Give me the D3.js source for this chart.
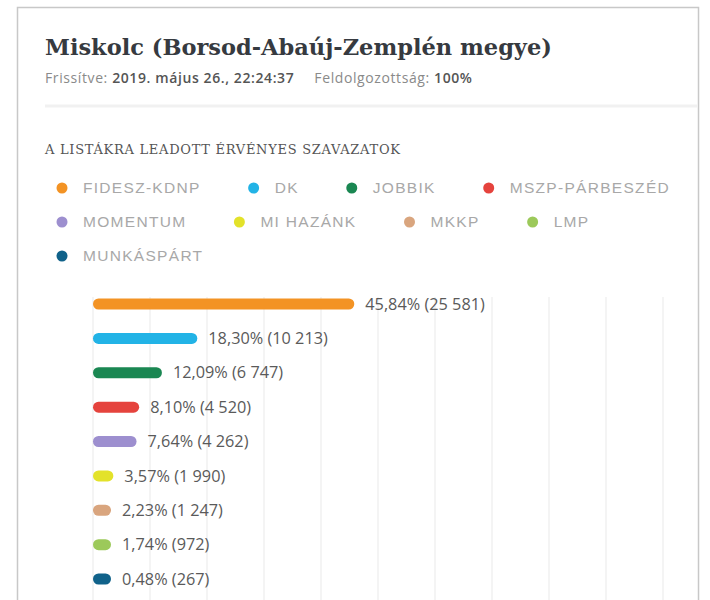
<!DOCTYPE html>
<html>
<head>
<meta charset="utf-8">
<script src="https://cdn.jsdelivr.net/npm/d3@7"></script>
<style>
  body { margin: 0; background: #fff; }
  svg text { font-family: "Open Sans", sans-serif; }
</style>
</head>
<body>
<div id="chart"></div>
<script>
// party names, vote share (%), votes, colors
var parties = ["FIDESZ-KDNP", "DK", "JOBBIK", "MSZP-PÁRBESZÉD", "MOMENTUM", "MI HAZÁNK", "MKKP", "LMP", "MUNKÁSPÁRT"];
var shares = [45.84, 18.30, 12.09, 8.10, 7.64, 3.57, 2.23, 1.74, 0.48];
var votes = [25581, 10213, 6747, 4520, 4262, 1990, 1247, 972, 267];
var colors = ["#f39324", "#22b3e6", "#1a8752", "#e5433d", "#9d8fcf", "#e3e22a", "#d9a57e", "#9cc95a", "#10628a"];

var w = 710, h = 600;

var svg = d3.select("#chart").append("svg")
    .attr("width", w)
    .attr("height", h);

// card frame
svg.append("rect")
    .attr("x", 17.5).attr("y", 7.5)
    .attr("width", 681).attr("height", 620)
    .attr("fill", "#fff")
    .attr("stroke", "#c8c8c8")
    .attr("stroke-width", 1.5);

svg.append("text")
    .attr("x", 45).attr("y", 55)
    .style("font-family", "'DejaVu Serif', serif")
    .style("font-weight", "bold")
    .style("font-size", "22.5px")
    .attr("fill", "#363a40")
    .text("Miskolc (Borsod-Abaúj-Zemplén megye)");

var sub = svg.append("text")
    .attr("x", 45).attr("y", 83)
    .style("font-size", "14px")
    .style("letter-spacing", "0.6px")
    .attr("fill", "#8a8a8a");
sub.append("tspan").text("Frissítve: ");
sub.append("tspan").attr("fill", "#555").style("font-weight", "600").text("2019. május 26., 22:24:37");
sub.append("tspan").attr("dx", 20).text("Feldolgozottság: ");
sub.append("tspan").attr("fill", "#555").style("font-weight", "600").text("100%");

svg.append("line")
    .attr("x1", 45).attr("x2", 698)
    .attr("y1", 106).attr("y2", 106)
    .attr("stroke", "#f1f1f1")
    .attr("stroke-width", 3);

svg.append("text")
    .attr("x", 45).attr("y", 154)
    .style("font-family", "'DejaVu Serif', serif")
    .style("font-size", "13px")
    .attr("textLength", 355)
    .attr("fill", "#555")
    .text("A LISTÁKRA LEADOTT ÉRVÉNYES SZAVAZATOK");

// legend, flowing items left to right and wrapping
var legend = svg.append("g");
var lx = 62, ly = 188;
parties.forEach(function(p, i) {
    var g = legend.append("g");
    g.append("circle").attr("r", 5.5).attr("fill", colors[i]);
    var t = g.append("text")
        .attr("x", 21).attr("dy", "0.35em")
        .style("font-family", "'Liberation Sans', Arial, sans-serif")
        .style("font-size", "15.5px")
        .style("letter-spacing", "1.3px")
        .attr("fill", "#a8a8a8")
        .text(p);
    var tw = t.node().getComputedTextLength();
    if (lx + 21 + tw > 695) { lx = 62; ly += 34; }
    g.attr("transform", "translate(" + lx + "," + ly + ")");
    lx += 21 + tw + 53;
});

// bars
var xScale = d3.scaleLinear().domain([0, 100]).range([93, 663]);
var yScale = d3.scalePoint().domain(parties).range([304, 579]);

svg.append("g")
    .selectAll("line")
    .data(xScale.ticks(10))
    .enter()
    .append("line")
    .attr("x1", function(d) { return xScale(d); })
    .attr("x2", function(d) { return xScale(d); })
    .attr("y1", 297).attr("y2", h)
    .attr("stroke", "#ededed")
    .attr("stroke-width", 1.2);

var rows = svg.append("g")
    .selectAll("g")
    .data(parties)
    .enter()
    .append("g");

function barW(i) {
    return Math.max(xScale(shares[i]) - xScale(0), 18);
}

rows.append("rect")
    .attr("x", xScale(0))
    .attr("y", function(d) { return yScale(d) - 5.5; })
    .attr("width", function(d, i) { return barW(i); })
    .attr("height", 11)
    .attr("rx", 5.5)
    .attr("fill", function(d, i) { return colors[i]; });

var fmtShare = function(v) { return v.toFixed(2).replace(".", ","); };
var fmtVotes = function(v) { return String(v).replace(/\B(?=(\d{3})+(?!\d))/g, " "); };

rows.append("text")
    .attr("x", function(d, i) { return xScale(0) + barW(i) + 11; })
    .attr("y", function(d) { return yScale(d); })
    .attr("dy", "0.35em")
    .style("font-size", "16.3px")
    .attr("fill", "#5a5a5a")
    .text(function(d, i) { return fmtShare(shares[i]) + "% (" + fmtVotes(votes[i]) + ")"; });
</script>
</body>
</html>
